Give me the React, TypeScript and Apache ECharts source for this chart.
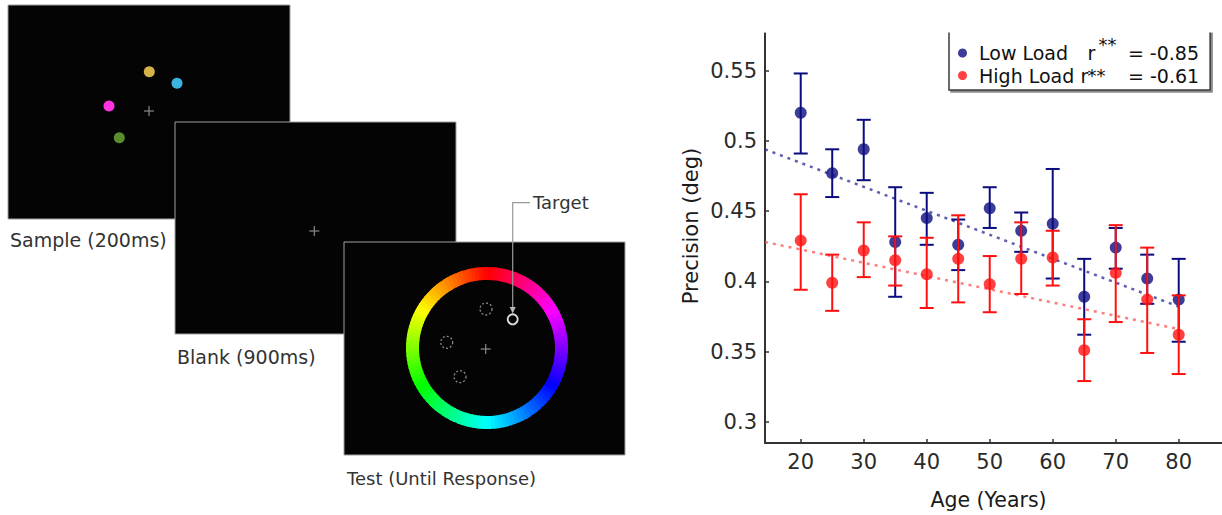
import React, { useEffect, useRef } from 'react';
import * as echarts from 'echarts';

// ---------- data ----------
const ages = [20, 25, 30, 35, 40, 45, 50, 55, 60, 65, 70, 75, 80];
const lowMean = [0.520, 0.477, 0.494, 0.428, 0.445, 0.426, 0.452, 0.436, 0.441, 0.389, 0.424, 0.402, 0.387];
const lowUpper = [0.548, 0.494, 0.515, 0.467, 0.463, 0.444, 0.467, 0.449, 0.480, 0.416, 0.438, 0.419, 0.416];
const lowLower = [0.491, 0.460, 0.472, 0.389, 0.426, 0.408, 0.438, 0.421, 0.402, 0.362, 0.409, 0.384, 0.357];
const highMean = [0.429, 0.399, 0.422, 0.415, 0.405, 0.416, 0.398, 0.416, 0.417, 0.351, 0.406, 0.387, 0.362];
const highUpper = [0.462, 0.419, 0.442, 0.432, 0.431, 0.447, 0.418, 0.442, 0.436, 0.373, 0.440, 0.424, 0.390];
const highLower = [0.394, 0.379, 0.403, 0.397, 0.381, 0.385, 0.378, 0.391, 0.397, 0.329, 0.371, 0.349, 0.334];
const trendAges = [14.33, 80];
const lowTrend = [0.494, 0.382];
const highTrend = [0.428, 0.366];
const xTicks = [20, 30, 40, 50, 60, 70, 80];
const yTicks = [0.3, 0.35, 0.4, 0.45, 0.5, 0.55];
const seriesNames = ['Low Load', 'High Load'];
const correlations = ['-0.85', '-0.61'];
const panelLabels = ['Sample (200ms)', 'Blank (900ms)', 'Test (Until Response)', 'Target'];

const FONT = 'DejaVu Sans';
const BLUE = '#0b0b80';
const RED = '#ff1010';

function errorBar(color: string) {
  return (params: any, api: any) => {
    const x = api.value(0);
    const lo = api.coord([x, api.value(1)]);
    const hi = api.coord([x, api.value(2)]);
    const hw = 7;
    const style = { stroke: color, lineWidth: 2, fill: 'none' };
    return {
      type: 'group',
      children: [
        { type: 'line', shape: { x1: lo[0], y1: lo[1], x2: hi[0], y2: hi[1] }, style },
        { type: 'line', shape: { x1: hi[0] - hw, y1: hi[1], x2: hi[0] + hw, y2: hi[1] }, style },
        { type: 'line', shape: { x1: lo[0] - hw, y1: lo[1], x2: lo[0] + hw, y2: lo[1] }, style },
      ],
    };
  };
}

function cross(cx: number, cy: number, h: number, color: string) {
  return [
    { type: 'line', shape: { x1: cx - h, y1: cy, x2: cx + h, y2: cy }, style: { stroke: color, lineWidth: 1.2 } },
    { type: 'line', shape: { x1: cx, y1: cy - h, x2: cx, y2: cy + h }, style: { stroke: color, lineWidth: 1.2 } },
  ];
}

function colorWheel(cx: number, cy: number, r0: number, r: number) {
  const out: any[] = [];
  const step = 3;
  for (let a = 0; a < 360; a += step) {
    const mid = a + step / 2;
    const hue = (360 - mid + 360) % 360;
    out.push({
      type: 'sector',
      shape: {
        cx, cy, r0, r,
        startAngle: ((a - 90) * Math.PI) / 180,
        endAngle: ((a + step + 0.8 - 90) * Math.PI) / 180,
        clockwise: true,
      },
      style: { fill: `hsl(${hue}, 100%, 50%)`, stroke: 'none' },
    });
  }
  return out;
}

function illustration() {
  const txt = (x: number, y: number, t: string, size: number) => ({
    type: 'text', x, y,
    style: { text: t, fill: '#333', font: `${size}px "${FONT}"`, verticalAlign: 'middle', align: 'left' },
  });
  const panel = (x: number, y: number, w: number, h: number) => ({
    type: 'rect', shape: { x, y, width: w, height: h },
    style: { fill: '#040404', stroke: '#a0a0a0', lineWidth: 1 },
  });
  const dot = (cx: number, cy: number, color: string) => ({
    type: 'circle', shape: { cx, cy, r: 5.5 }, style: { fill: color },
  });
  const ring = (cx: number, cy: number, stroke: string, dash: any, lw: number, r: number) => ({
    type: 'circle', shape: { cx, cy, r },
    style: { fill: 'none', stroke, lineWidth: lw, lineDash: dash },
  });
  return [
    panel(8, 5, 282, 214),
    dot(149.3, 71.7, '#d6b24a'),
    dot(177, 83.3, '#3ab4e0'),
    dot(109, 106, '#ff33e0'),
    dot(119.3, 137.7, '#5a8c2e'),
    ...cross(149, 111, 5, '#8a8a8a'),
    txt(10, 240, panelLabels[0], 19),
    panel(175, 122, 281, 212),
    ...cross(314.3, 231, 5, '#8a8a8a'),
    txt(177, 357, panelLabels[1], 19),
    panel(344, 242, 281, 213),
    ...colorWheel(487, 348, 68, 81),
    ring(486, 309, '#8a8a8a', [2, 2], 1.3, 6),
    ring(446.7, 342.3, '#8a8a8a', [2, 2], 1.3, 6),
    ring(460, 376.7, '#8a8a8a', [2, 2], 1.3, 6),
    ring(512.7, 319.3, '#dddddd', null, 1.8, 5),
    ...cross(485.7, 349, 5, '#8a8a8a'),
    txt(347, 478, panelLabels[2], 18),
    {
      type: 'polyline',
      shape: { points: [[530, 202.7], [512.7, 202.7], [512.7, 310]] },
      style: { stroke: '#9a9a9a', lineWidth: 1.2, fill: 'none' },
    },
    {
      type: 'polygon',
      shape: { points: [[509.7, 307], [515.7, 307], [512.7, 313.5]] },
      style: { fill: '#bbbbbb' },
    },
    txt(533, 202, panelLabels[3], 18),
  ];
}

export default function App() {
  const ref = useRef<HTMLDivElement>(null);
  useEffect(() => {
    if (!ref.current) return;
    const chart = echarts.init(ref.current, undefined, { renderer: 'svg' });
    const axisText = { fontFamily: FONT, fontSize: 21, color: '#2a2a2a' };
    const tok = { fontFamily: FONT, fontSize: 19, color: '#111', lineHeight: 21 };
    chart.setOption({
      animation: false,
      backgroundColor: '#ffffff',
      grid: { left: 765, right: 0, top: 33, bottom: 71, containLabel: false },
      xAxis: {
        type: 'value',
        min: trendAges[0],
        max: 86.87,
        splitLine: { show: false },
        axisLine: { lineStyle: { color: '#333', width: 2 } },
        axisTick: { inside: true, length: 4, customValues: xTicks, lineStyle: { color: '#333', width: 1.5 } },
        axisLabel: { ...axisText, margin: 8, customValues: xTicks },
        name: 'Age (Years)',
        nameLocation: 'middle',
        nameGap: 46,
        nameTextStyle: { fontFamily: FONT, fontSize: 20.5, color: '#1a1a1a', padding: [0, 10, 0, 0] },
      },
      yAxis: {
        type: 'value',
        min: 0.2849,
        max: 0.5768,
        splitLine: { show: false },
        axisLine: { show: true, lineStyle: { color: '#333', width: 2 } },
        axisTick: { show: true, inside: true, length: 4, customValues: yTicks, lineStyle: { color: '#333', width: 1.5 } },
        axisLabel: { ...axisText, margin: 8, customValues: yTicks },
        name: 'Precision (deg)',
        nameLocation: 'middle',
        nameGap: 64,
        nameTextStyle: { fontFamily: FONT, fontSize: 21, color: '#1a1a1a', padding: [0, 0, 0, 24] },
      },
      legend: {
        data: seriesNames,
        orient: 'vertical',
        left: 949,
        top: 25,
        icon: 'circle',
        itemWidth: 9,
        itemHeight: 9,
        itemGap: 1.5,
        padding: [10.5, 11, 4, 9],
        backgroundColor: '#ffffff',
        borderColor: '#3a3a3a',
        borderWidth: 1.5,
        borderRadius: 0,
        shadowColor: 'rgba(0,0,0,0.45)',
        shadowOffsetX: 2,
        shadowOffsetY: 2,
        shadowBlur: 1,
        selectedMode: false,
        formatter: (name: string) =>
          name === seriesNames[0]
            ? `{g| }{n1|${name}}{r1|r}{sup|**}{v|= ${correlations[0]}}`
            : `{g| }{n2|${name}}{r2|r}{st|**}{v|= ${correlations[1]}}`,
        textStyle: {
          ...tok,
          rich: {
            g: { ...tok, width: 7 },
            n1: { ...tok, width: 108.4 },
            n2: { ...tok, width: 101.5 },
            r1: { ...tok, width: 11 },
            r2: { ...tok, width: 7 },
            sup: { ...tok, fontSize: 18, width: 29.5, lineHeight: 4, height: 4, verticalAlign: 'top' },
            st: { ...tok, fontSize: 18, width: 40.5 },
            v: { ...tok },
          },
        },
      },
      graphic: {
        elements: [
          ...illustration(),
          { type: 'rect', shape: { x: 700, y: 0, width: 522, height: 32.5 }, style: { fill: '#ffffff' }, z: 100 },
        ],
      },
      series: [
        {
          type: 'line',
          data: trendAges.map((a, i) => [a, lowTrend[i]]),
          symbol: 'none',
          lineStyle: { color: 'rgba(40,40,150,0.75)', width: 2.5, type: [3, 5] },
          z: 1,
          silent: true,
        },
        {
          type: 'line',
          data: trendAges.map((a, i) => [a, highTrend[i]]),
          symbol: 'none',
          lineStyle: { color: 'rgba(255,70,70,0.7)', width: 2.5, type: [3, 5] },
          z: 1,
          silent: true,
        },
        {
          type: 'custom',
          renderItem: errorBar(BLUE),
          data: ages.map((a, i) => [a, lowLower[i], lowUpper[i]]),
          encode: { x: 0, y: [1, 2] },
          z: 2,
          silent: true,
        },
        {
          name: seriesNames[0],
          type: 'scatter',
          data: ages.map((a, i) => [a, lowMean[i]]),
          symbolSize: 12,
          itemStyle: { color: BLUE },
          z: 3,
        },
        {
          type: 'custom',
          renderItem: errorBar(RED),
          data: ages.map((a, i) => [a, highLower[i], highUpper[i]]),
          encode: { x: 0, y: [1, 2] },
          z: 4,
          silent: true,
        },
        {
          name: seriesNames[1],
          type: 'scatter',
          data: ages.map((a, i) => [a, highMean[i]]),
          symbolSize: 12,
          itemStyle: { color: RED },
          z: 5,
        },
      ],
    });
    return () => chart.dispose();
  }, []);
  return <div ref={ref} style={{ position: 'absolute', left: 0, top: 0, width: 1222, height: 515 }} />;
}
